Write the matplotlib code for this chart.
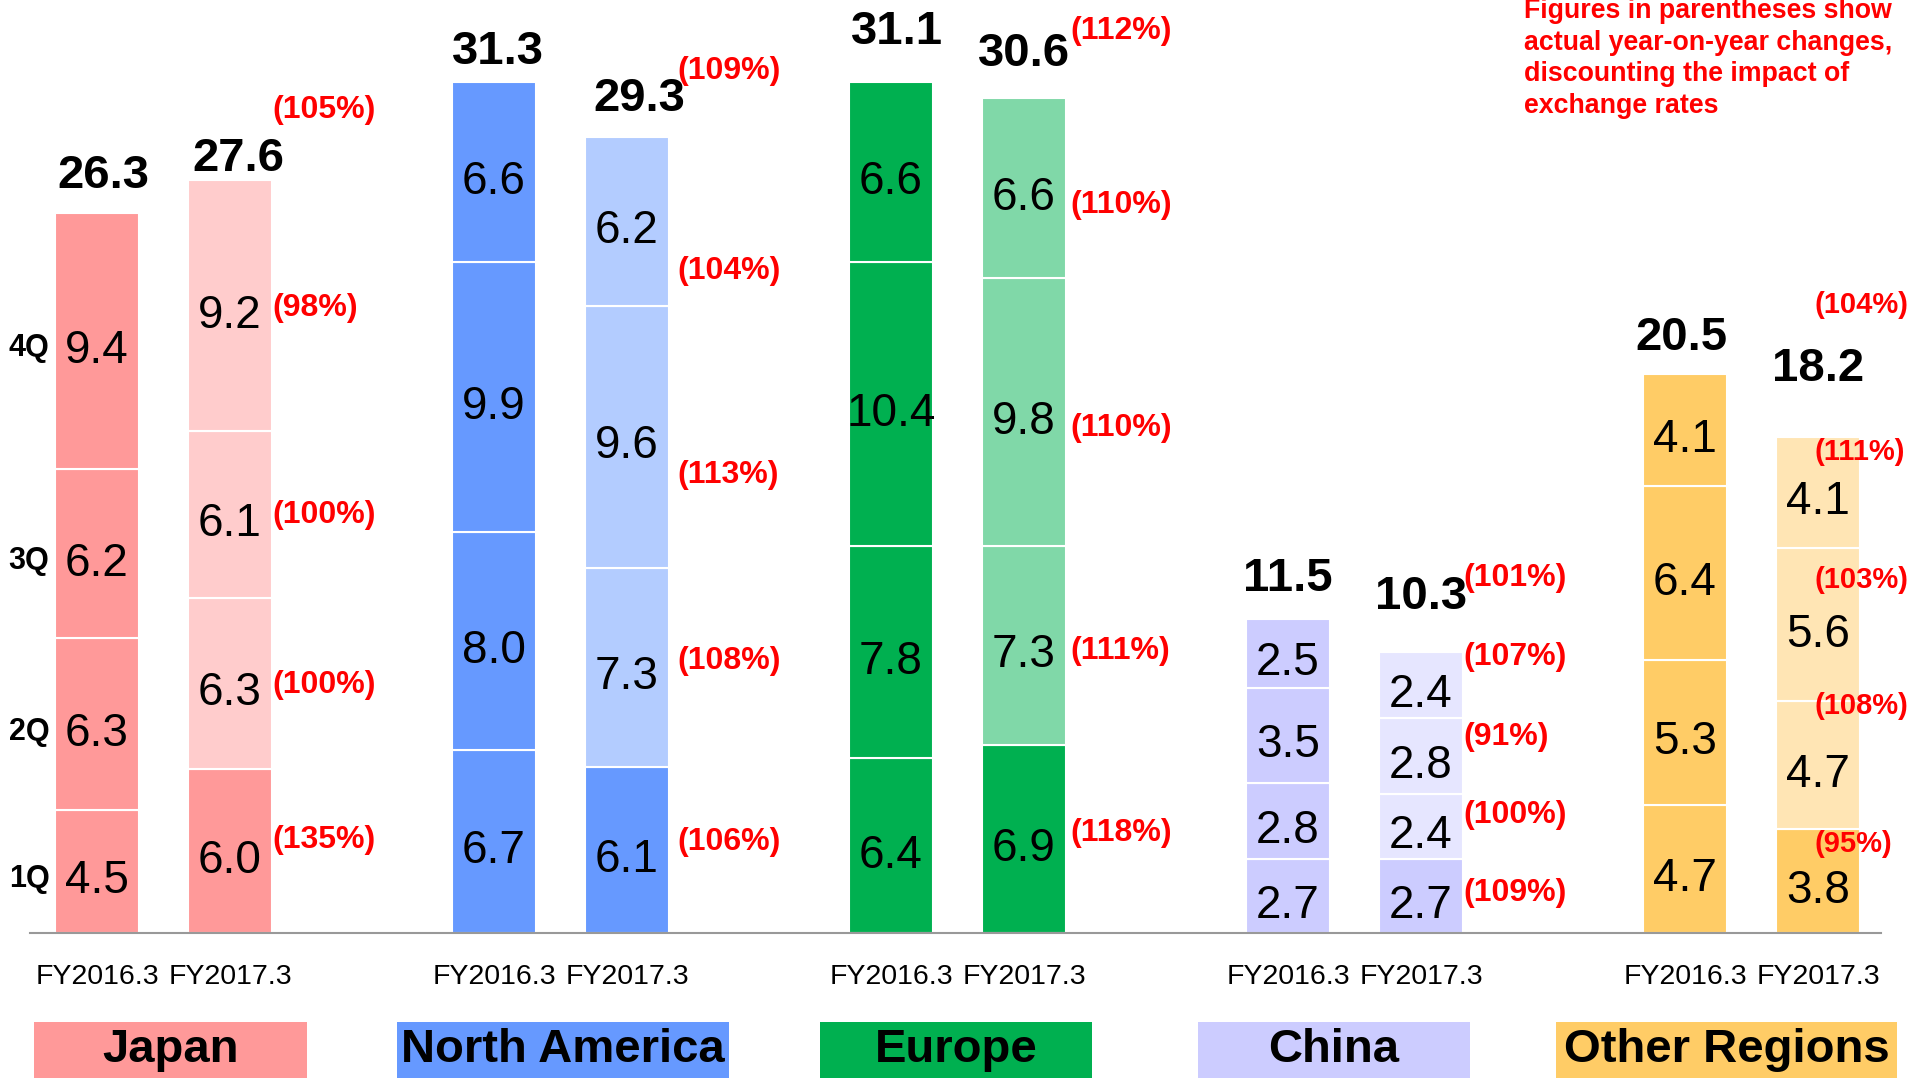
import numpy as np
import matplotlib
matplotlib.use('Agg')
import matplotlib.pyplot as plt
from matplotlib.patches import Rectangle

plt.rcParams['font.family'] = ['Liberation Sans', 'DejaVu Sans']

# Data: quarterly sales by region (1Q..4Q)
regions = ['Japan', 'North America', 'Europe', 'China', 'Other Regions']
years = ['FY2016.3', 'FY2017.3']
quarters = ['1Q', '2Q', '3Q', '4Q']
fy2016 = [[4.5, 6.3, 6.2, 9.4],
          [6.7, 8.0, 9.9, 6.6],
          [6.4, 7.8, 10.4, 6.6],
          [2.7, 2.8, 3.5, 2.5],
          [4.7, 5.3, 6.4, 4.1]]
fy2017 = [[6.0, 6.3, 6.1, 9.2],
          [6.1, 7.3, 9.6, 6.2],
          [6.9, 7.3, 9.8, 6.6],
          [2.7, 2.4, 2.8, 2.4],
          [3.8, 4.7, 5.6, 4.1]]
total_2016 = [26.3, 31.3, 31.1, 11.5, 20.5]
total_2017 = [27.6, 29.3, 30.6, 10.3, 18.2]
yoy_q = [[135, 100, 100, 98],
         [106, 108, 113, 104],
         [118, 111, 110, 110],
         [109, 100, 91, 107],
         [95, 108, 103, 111]]
yoy_total = [105, 109, 112, 101, 104]

note_lines = ['Figures in parentheses show',
              'actual year-on-year changes,',
              'discounting the impact of',
              'exchange rates']

# Colours (dark = FY2016 / actual, light = FY2017 rest)
dark = ['#FF9999', '#6699FF', '#00B050', '#CCCCFF', '#FFCC66']
light = ['#FFCCCC', '#B3CCFF', '#80D8A8', '#E6E6FF', '#FFE5B4']
red = '#FF0000'

# Layout tweaks for the labels (data units)
bar_w = 0.212
pair_gap = 0.335
total_lift = [[0.92, 0.34], [0.68, 0.94], [1.4, 1.2], [1.04, 1.57], [0.86, 2.04]]
total_dx = [[0.015, 0.02], [0.01, 0.03], [0.015, 0.0], [0.0, 0.0], [-0.01, 0.0]]
pct_nudge = [[0.40, -0.06, 0.0, -0.07],
             [0.31, 0.23, -1.41, -1.83],
             [0.22, -0.21, -0.56, -0.61],
             [0.12, 0.44, 0.71, 1.02],
             [1.37, 2.18, 1.64, 1.49]]
pct_total_lift = [2.58, 2.41, 2.49, 2.73, 4.82]
pct_dx = [0.0, 0.022, 0.01, 0.0, -0.115]
pct_size = [23, 23, 23, 23, 21]
box_dx = [0.185, 0.174, 0.164, 0.116, 0.105]
box_w = [0.688, 0.836, 0.685, 0.685, 0.859]

fig = plt.figure(figsize=(19.15, 10.79), dpi=100)
ax = fig.add_axes([0, 0, 1, 1])
ax.set_axis_off()
ax.set_xlim(-0.2443, 4.5793)
ax.set_ylim(-5.354, 34.21)

for i, reg in enumerate(regions):
    for j, vals in enumerate([fy2016[i], fy2017[i]]):
        x = i + j * pair_gap
        bottoms = np.concatenate([[0], np.cumsum(vals)[:-1]])
        if j == 0:
            cols = [dark[i]] * 4
        else:
            cols = [dark[i]] + [light[i]] * 3
        ax.bar([x] * 4, vals, bottom=bottoms, width=bar_w, color=cols,
               edgecolor='white', linewidth=1.5, zorder=2)
        for k, (v, b) in enumerate(zip(vals, bottoms)):
            mid = b + v / 2
            ax.text(x, mid - 0.8, f'{v:.1f}', ha='center', va='baseline',
                    fontsize=33, color='black', zorder=4)
            if j == 1:
                ax.text(x + bar_w / 2 + pct_dx[i], mid + pct_nudge[i][k] - 0.3,
                        f'({yoy_q[i][k]}%)', ha='left', va='baseline',
                        fontsize=pct_size[i], fontweight='bold', color=red,
                        zorder=5)
            if i == 0 and j == 0:
                ax.text(-0.171, mid - 0.56, quarters[k], ha='center',
                        va='baseline', fontsize=22, fontweight='bold')
        top = sum(vals)
        tot = [total_2016, total_2017][j][i]
        ax.text(x + total_dx[i][j], top + total_lift[i][j], f'{tot:.1f}',
                ha='center', va='baseline', fontsize=34, fontweight='bold',
                zorder=4)
        if j == 1:
            ax.text(x + bar_w / 2 + pct_dx[i], top + pct_total_lift[i] - 0.3,
                    f'({yoy_total[i]}%)', ha='left', va='baseline',
                    fontsize=pct_size[i], fontweight='bold', color=red,
                    zorder=5)
        # year label under each bar
        ax.text(x, -1.87, years[j], ha='center', va='baseline', fontsize=20.5)

    # region name box
    cx = i + box_dx[i]
    ax.add_patch(Rectangle((cx - box_w[i] / 2, -5.32), box_w[i], 5.32 - 3.26,
                           facecolor=dark[i], edgecolor='none', zorder=1))
    ax.text(cx, -4.73, reg, ha='center', va='baseline', fontsize=34,
            fontweight='bold', zorder=3)

# baseline
ax.plot([-0.169, 4.494], [0, 0], color='#999999', linewidth=1.5, zorder=3)

# note in the top right corner
for n, line in enumerate(note_lines):
    ax.text(3.594, 33.55 - n * 1.16, line, ha='left', va='baseline',
            fontsize=19.3, fontweight='bold', color=red)

plt.savefig('out.png', dpi=100, facecolor='white')
plt.close()
